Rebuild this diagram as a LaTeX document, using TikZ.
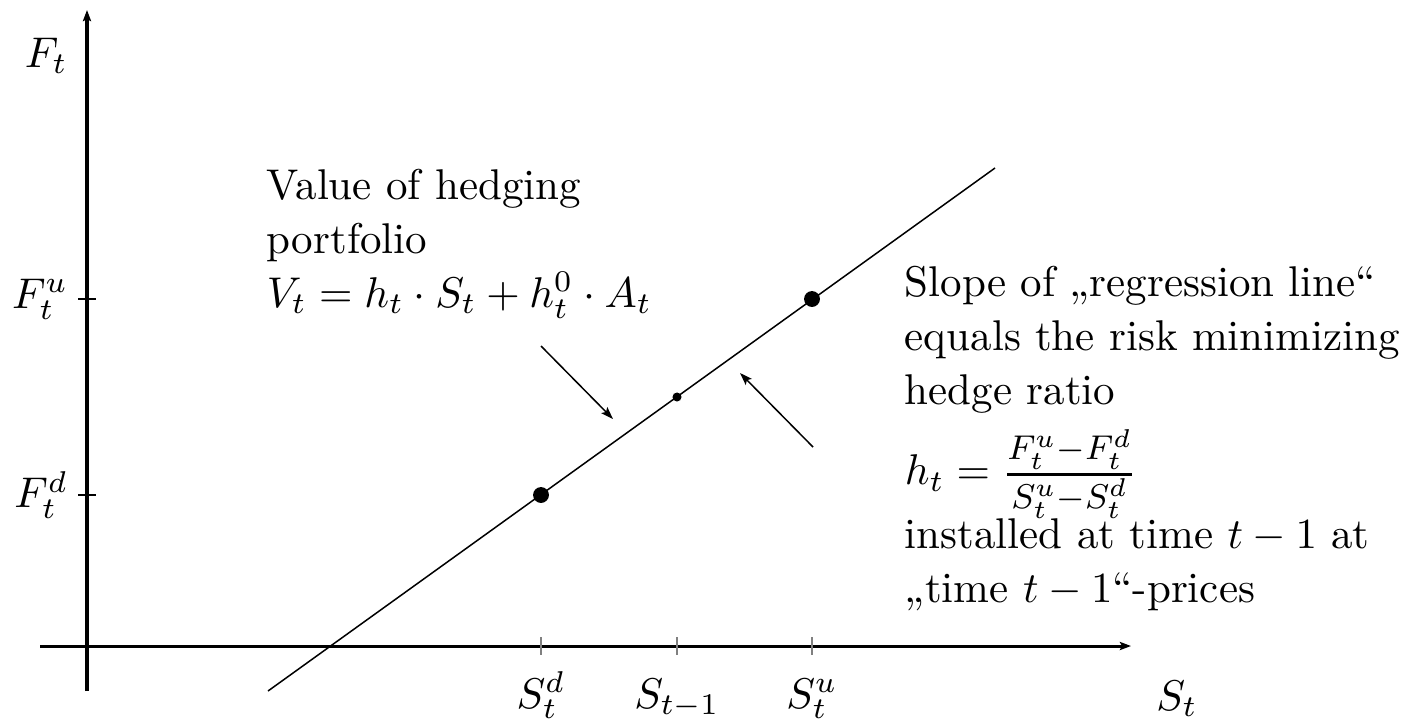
\documentclass[tikz,border=0pt]{standalone}
\usepackage{amsmath}
\usetikzlibrary{arrows.meta}
\newcommand{\fracpart}[1]{\mbox{\fontsize{8}{9}\selectfont$#1$}}
\begin{document}
\begin{tikzpicture}[x=0.2326pt,y=-0.2326pt,
  axis/.style={line width=0.7pt,-{Stealth[length=2.6pt,width=1.9pt,inset=0.5pt]}},
  regline/.style={line width=0.35pt},
  pointer/.style={line width=0.35pt,-{Stealth[length=2.9pt,width=2pt,inset=0.6pt]}},
  ytick/.style={line width=0.35pt},
  xtick/.style={line width=0.45pt,gray},
  lab/.style={inner sep=0pt,font=\fontsize{10}{12}\selectfont},
  txt/.style={inner sep=0pt,align=left,font=\fontsize{10}{12.6}\selectfont},
  bigdot/.style={circle,fill=black,inner sep=0pt,minimum size=3.7pt},
  smalldot/.style={circle,fill=black,inner sep=0pt,minimum size=2.1pt}]
\useasboundingbox (0,0) rectangle (1407,725);
% axes
\coordinate (xs) at (40,646);
\coordinate (xe) at (1131,646);
\coordinate (ys) at (87,691);
\coordinate (ye) at (87,10);
\draw[axis] (xs) -- (xe);
\draw[axis] (ys) -- (ye);
% ticks
\coordinate (tu1) at (78,299); \coordinate (tu2) at (96,299);
\coordinate (td1) at (78,495); \coordinate (td2) at (96,495);
\draw[ytick] (tu1) -- (tu2);
\draw[ytick] (td1) -- (td2);
\coordinate (sd1) at (541,637); \coordinate (sd2) at (541,655);
\coordinate (sm1) at (677,637); \coordinate (sm2) at (677,655);
\coordinate (su1) at (812,637); \coordinate (su2) at (812,655);
\draw[xtick] (sd1) -- (sd2);
\draw[xtick] (sm1) -- (sm2);
\draw[xtick] (su1) -- (su2);
% regression line
\coordinate (r1) at (268,691);
\coordinate (r2) at (995,168);
\draw[regline] (r1) -- (r2);
\node[bigdot] (pd) at (541,495) {};
\node[bigdot] (pu) at (812,299) {};
\node[smalldot] (pm) at (677,397) {};
% axis labels
\node[lab,anchor=base west] (Ft) at (24,67) {$F_t$};
\node[lab,anchor=east] (Fu) at (69,299) {$F_t^u$};
\node[lab,anchor=east] (Fd) at (69,495) {$F_t^d$};
\node[lab,anchor=base] (Sd) at (541,708) {$S_t^d$};
\node[lab,anchor=base] (Sm) at (677,708) {$S_{t-1}$};
\node[lab,anchor=base] (Su) at (812,708) {$S_t^u$};
\node[lab,anchor=base] (St) at (1177,710) {$S_t$};
% text blocks
\node[txt,anchor=north west] (val) at (266,168) {Value of hedging\\portfolio\\$V_t = h_t\cdot S_t + h_t^0\cdot A_t$};
\node[txt,anchor=north west] (slope) at (904,265) {Slope of „regression line“\\equals the risk minimizing\\hedge ratio\\[2.8pt]$h_t = \genfrac{}{}{0.7pt}{1}{\fracpart{F_t^u{-}F_t^d}}{\fracpart{S_t^u{-}S_t^d}}$\\[-1pt]installed at time $t-1$ at\\„time $t-1$“-prices};
% pointers
\coordinate (a1s) at (541,346);
\coordinate (a1e) at (613,419);
\coordinate (a2s) at (813,447);
\coordinate (a2e) at (740,373);
\draw[pointer] (a1s) -- (a1e);
\draw[pointer] (a2s) -- (a2e);
\end{tikzpicture}
\end{document}
